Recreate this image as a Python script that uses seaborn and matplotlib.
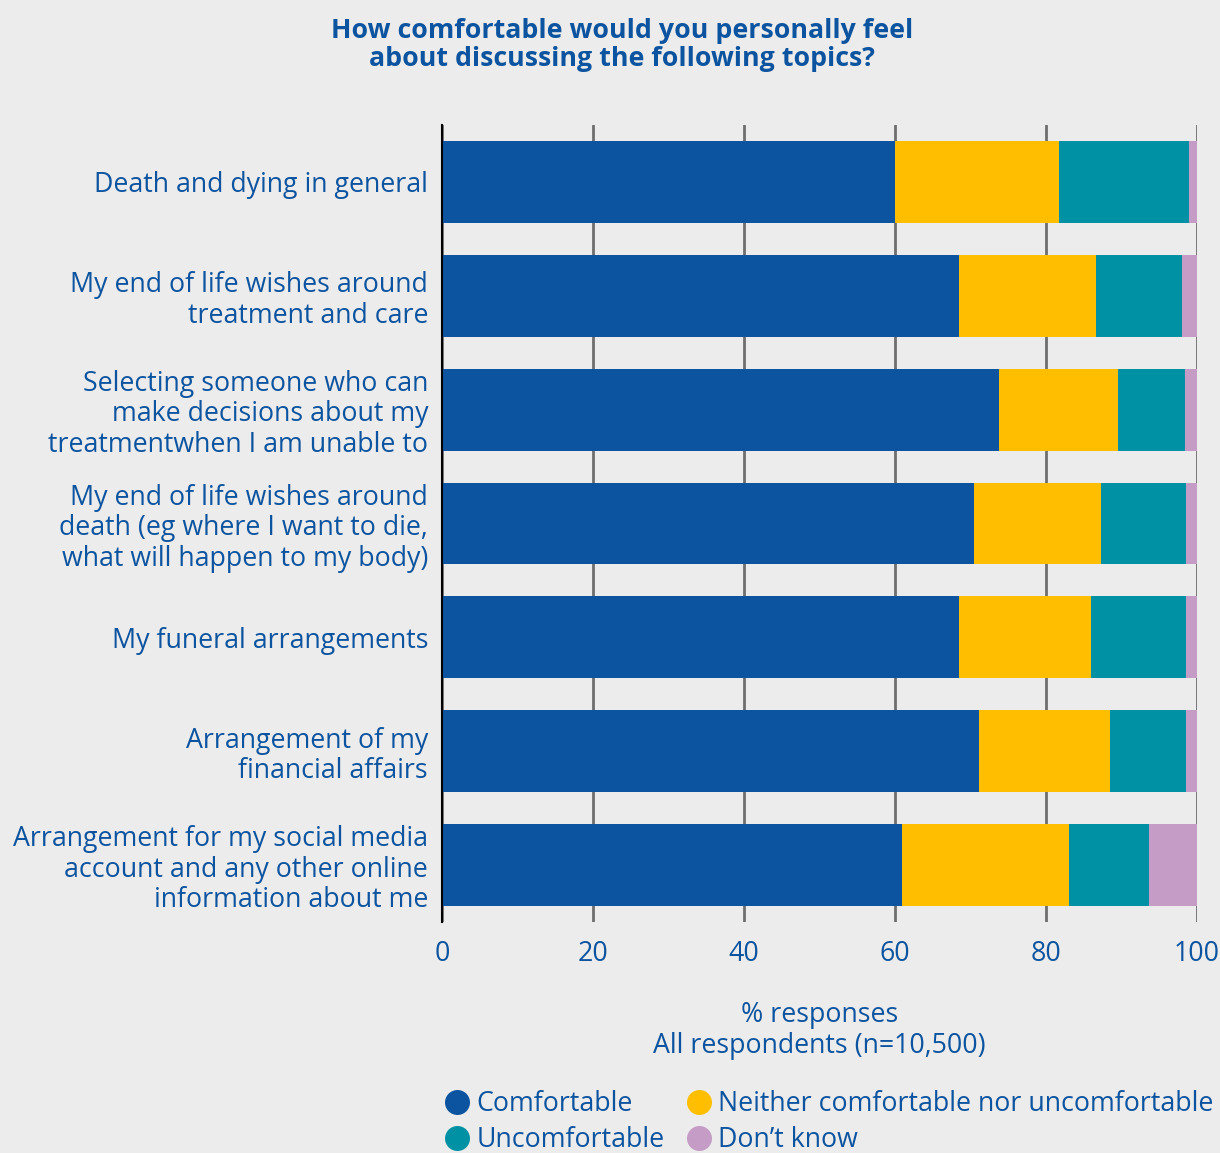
import matplotlib
matplotlib.use("Agg")
import matplotlib.pyplot as plt
from matplotlib.lines import Line2D
import seaborn as sns
import pandas as pd

# Survey topics (top to bottom)
topics = [
    "Death and dying in general",
    "My end of life wishes around\ntreatment and care",
    "Selecting someone who can\nmake decisions about my\ntreatmentwhen I am unable to",
    "My end of life wishes around\ndeath (eg where I want to die,\nwhat will happen to my body)",
    "My funeral arrangements",
    "Arrangement of my\nfinancial affairs",
    "Arrangement for my social media\naccount and any other online\ninformation about me",
]

# Response shares, % of respondents
comfortable = [60.0, 68.5, 73.8, 70.5, 68.5, 71.1, 60.9]
neither = [21.7, 18.1, 15.7, 16.8, 17.4, 17.4, 22.1]
uncomfortable = [17.2, 11.4, 8.9, 11.3, 12.7, 10.1, 10.6]
dont_know = [1.1, 2.0, 1.6, 1.4, 1.4, 1.4, 6.4]

series_names = ["Comfortable", "Neither comfortable nor uncomfortable",
                "Uncomfortable", "Don\u2019t know"]
series_colors = ["#0C549F", "#FFBF00", "#0091A4", "#C49CC5"]
x_ticks = [0, 20, 40, 60, 80, 100]

TEXT = "#0C54A0"
BG = "#ECECEC"
FS = 19.3

sns.set_theme(style="white")
plt.rcParams["font.family"] = ["Open Sans", "DejaVu Sans"]

df = pd.DataFrame({
    "topic": topics,
    "Comfortable": comfortable,
    "Neither": neither,
    "Uncomfortable": uncomfortable,
    "DontKnow": dont_know,
})
# cumulative totals for the stacked layout
cols = ["Comfortable", "Neither", "Uncomfortable", "DontKnow"]
cum = df[cols].cumsum(axis=1)
cum["topic"] = df["topic"]

fig = plt.figure(figsize=(12.2, 11.53), dpi=100, facecolor=BG)
ax = fig.add_axes([442 / 1220, 1 - 922 / 1153, 755 / 1220, 797 / 1153])
ax.set_facecolor(BG)

# draw the widest cumulative layer first so each narrower one sits on top
for col, color in zip(reversed(cols), reversed(series_colors)):
    sns.barplot(data=cum, x=col, y="topic", orient="h", color=color,
                saturation=1, width=0.72, ax=ax, zorder=3, edgecolor="none")

ax.set_xlim(0, 100)
ax.set_ylim(6.5, -0.5)
ax.set_xticks(x_ticks)
ax.set_xticklabels([str(t) for t in x_ticks])
ax.xaxis.grid(True, color="#6E6E6E", linewidth=2, zorder=1)
ax.set_axisbelow(True)
for s in ["top", "right", "bottom"]:
    ax.spines[s].set_visible(False)
ax.spines["left"].set_color("black")
ax.spines["left"].set_linewidth(1.5)
ax.spines["left"].set_zorder(5)

ax.tick_params(axis="x", length=0, pad=13, labelsize=FS, labelcolor=TEXT)
ax.tick_params(axis="y", length=0, pad=10, labelsize=FS, labelcolor=TEXT)
for lbl in ax.get_yticklabels():
    lbl.set_linespacing(1.12)
    lbl.set_horizontalalignment("right")

ax.set_ylabel("")
ax.set_xlabel("% responses\nAll respondents (n=10,500)", fontsize=FS,
              color=TEXT, labelpad=24, linespacing=1.12)

fig.text(622 / 1220, 1 - 45 / 1153,
         "How comfortable would you personally feel\nabout discussing the following topics?",
         ha="center", va="center", fontsize=19.3, fontweight="bold",
         color=TEXT, linespacing=1.1)

handles = [Line2D([0], [0], marker="o", linestyle="none", markersize=18,
                  markerfacecolor=c, markeredgecolor="none")
           for c in series_colors]
order = [0, 2, 1, 3]
leg = fig.legend([handles[i] for i in order], [series_names[i] for i in order],
                 ncol=2, loc="upper left", bbox_to_anchor=(444 / 1220, 1 - 1090 / 1153),
                 frameon=False, fontsize=FS, handletextpad=0.2,
                 columnspacing=0.8, labelspacing=0.3, handlelength=1.0,
                 borderpad=0, borderaxespad=0)
for t in leg.get_texts():
    t.set_color(TEXT)

fig.savefig("out.png", dpi=100, facecolor=BG)
